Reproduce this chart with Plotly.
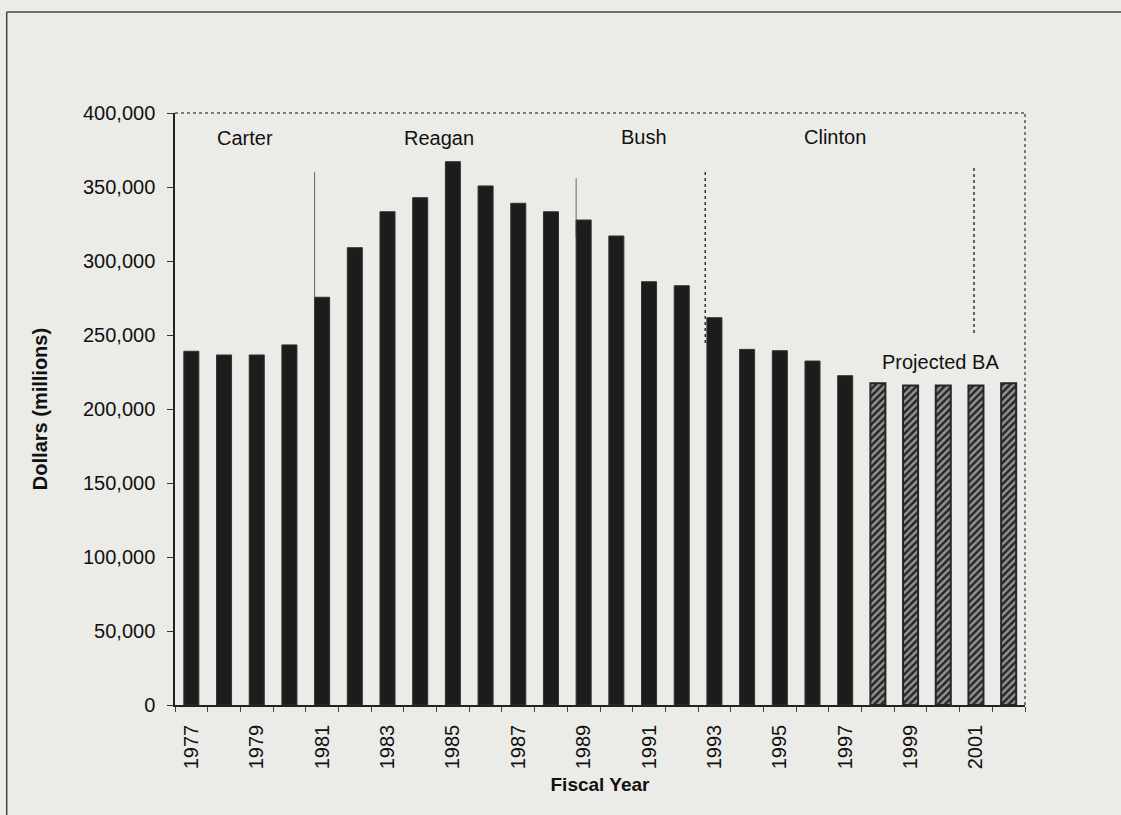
import plotly.graph_objects as go

# Fiscal years and budget authority (millions of dollars)
actual_years = list(range(1977, 1998))
actual_values = [239000, 236500, 236500, 243300, 275500, 309000, 333300, 342800,
                 367100, 350700, 339000, 333300, 327700, 316900, 286000, 283300,
                 261700, 240300, 239400, 232400, 222500]
projected_years = list(range(1998, 2003))
projected_values = [217400, 215800, 215800, 215800, 217400]

tick_years = list(range(1977, 2002, 2))
tick_labels = [str(y) for y in tick_years]

# Administration labels and separators
admin_names = ["Carter", "Reagan", "Bush", "Clinton"]
admin_label_x = [1978.65, 1984.56, 1990.86, 1996.70]
admin_label_y = [383000, 383000, 383500, 383500]
separator_x = [1980.77, 1988.77, 1992.72, 2000.94]
separator_top = [360000, 356000, 361500, 362800]
separator_bottom = [275000, 316000, 244600, 251400]

FONT = "Liberation Sans, Arial, sans-serif"
BG = "#ebebe7"
INK = "#1c1c1c"

fig = go.Figure()
fig.add_trace(go.Bar(
    x=actual_years, y=actual_values, width=0.46,
    marker=dict(color=INK, line=dict(color="#333", width=1)),
    showlegend=False,
))
fig.add_trace(go.Bar(
    x=projected_years, y=projected_values, width=0.46,
    marker=dict(color="#262626", line=dict(color="#262626", width=2),
                pattern=dict(shape="/", fgcolor="#ffffff", bgcolor="#262626",
                             size=5, solidity=0.5)),
    showlegend=False,
))

for name, lx, ly in zip(admin_names, admin_label_x, admin_label_y):
    fig.add_annotation(x=lx, y=ly, text=name, showarrow=False,
                       font=dict(family=FONT, size=20, color="#111"))
fig.add_annotation(x=1999.91, y=232000, text="Projected BA", showarrow=False,
                   font=dict(family=FONT, size=20, color="#111"))

styles = [("#666", 1, "solid"), ("#666", 1, "solid"),
          ("#333", 1.5, "dot"), ("#333", 1.5, "dot")]
for sx, top, bot, (c, w, d) in zip(separator_x, separator_top, separator_bottom, styles):
    fig.add_shape(type="line", x0=sx, x1=sx, y0=bot, y1=top, xref="x", yref="y",
                  line=dict(color=c, width=w, dash=d), layer="below")

# dotted top and right borders of the plot area
fig.add_shape(type="line", xref="paper", yref="paper", x0=0, x1=1, y0=1, y1=1,
              line=dict(color="#555", width=1.5, dash="dot"))
fig.add_shape(type="line", xref="paper", yref="paper", x0=1, x1=1, y0=0, y1=1,
              line=dict(color="#555", width=1.5, dash="dot"))

# outer frame (top and left edges)
fig.add_shape(type="line", xref="paper", yref="paper", x0=-0.198, x1=1.2,
              y0=1.1706, y1=1.1706, line=dict(color="#444", width=1.5))
fig.add_shape(type="line", xref="paper", yref="paper", x0=-0.198, x1=-0.198,
              y0=-0.2, y1=1.1706, line=dict(color="#444", width=1.5))

fig.update_layout(
    width=1121, height=815,
    margin=dict(l=175, r=96, t=113, b=110),
    paper_bgcolor=BG, plot_bgcolor=BG,
    bargap=0.5,
    font=dict(family=FONT, color="#111"),
    xaxis=dict(
        range=[1976.5, 2002.5], tickmode="array", tickvals=tick_years,
        ticktext=tick_labels, tickangle=-90, ticks="",
        tickfont=dict(family=FONT, size=20, color="#111"),
        showline=True, linecolor="#222", linewidth=1.5,
        showgrid=False, zeroline=False, ticklabelstandoff=10,
        minor=dict(tick0=1976.5, dtick=1, ticks="outside", ticklen=5,
                   tickcolor="#444", showgrid=False),
        title=dict(text="<b>Fiscal Year</b>", font=dict(family=FONT, size=19, color="#111"),
                   standoff=9),
    ),
    yaxis=dict(
        range=[0, 400000], dtick=50000, tickformat=",d",
        ticks="outside", ticklen=6, tickcolor="#333",
        tickfont=dict(family=FONT, size=20, color="#111"),
        showline=True, linecolor="#222", linewidth=1.5,
        showgrid=False, zeroline=False, ticklabelstandoff=8,
        title=dict(text="<b>Dollars (millions)</b>", font=dict(family=FONT, size=20, color="#111"),
                   standoff=30),
    ),
)

fig.write_html("out.html")
